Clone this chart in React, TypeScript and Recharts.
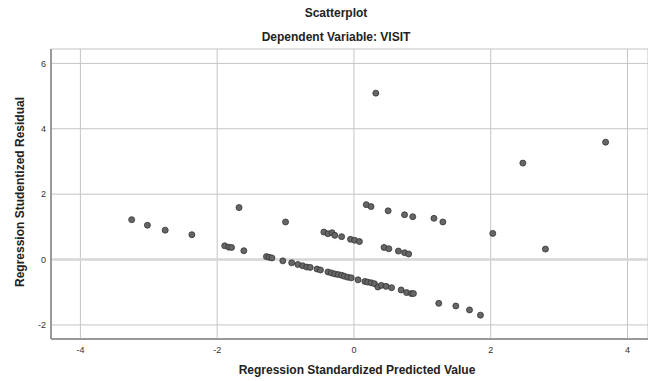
import { ScatterChart, Scatter, XAxis, YAxis, CartesianGrid, ReferenceLine } from "recharts";

// Regression standardized predicted value (x) vs studentized residual (y)
const predicted = [
  -3.25, -3.02, -2.76, -2.37, -1.89, -1.83, -1.79, -1.68, -1.61, -1.0,
  0.18, 0.25, 0.5, 0.74, 0.86, 1.17, 1.3, 2.03, 2.8, 2.47, 3.68, 0.32,
  -0.44, -0.38, -0.32, -0.28, -0.18, -0.05, 0.01, 0.08, 0.44, 0.51, 0.65, 0.74, 0.8,
  -1.28, -1.24, -1.2, -1.04, -0.91, -0.82, -0.75, -0.69, -0.64, -0.54, -0.49,
  -0.38, -0.33, -0.28, -0.23, -0.18, -0.14, -0.09, -0.04, 0.06, 0.16, 0.2,
  0.25, 0.3, 0.35, 0.4, 0.47, 0.55, 0.69, 0.77, 0.84, 0.87, 1.24, 1.49, 1.69, 1.85,
];

const residual = [
  1.22, 1.05, 0.9, 0.76, 0.42, 0.38, 0.37, 1.59, 0.27, 1.15,
  1.68, 1.62, 1.49, 1.37, 1.31, 1.26, 1.15, 0.8, 0.32, 2.95, 3.59, 5.09,
  0.84, 0.79, 0.82, 0.74, 0.7, 0.62, 0.59, 0.55, 0.37, 0.33, 0.26, 0.21, 0.17,
  0.09, 0.07, 0.05, -0.04, -0.1, -0.15, -0.19, -0.23, -0.24, -0.29, -0.32,
  -0.38, -0.41, -0.44, -0.46, -0.48, -0.51, -0.54, -0.56, -0.62, -0.67, -0.69,
  -0.71, -0.74, -0.84, -0.79, -0.82, -0.86, -0.93, -1.01, -1.04, -1.04, -1.34, -1.42, -1.54, -1.7,
];

const xTicks = [-4, -2, 0, 2, 4];
const yTicks = [-2, 0, 2, 4, 6];

const points = predicted.map((x, i) => ({ x, y: residual[i] }));

const font = "'Liberation Sans', Arial, sans-serif";

const Dot = (props: any) => (
  <circle cx={props.cx} cy={props.cy} r={3} fill="#666666" stroke="#333333" strokeWidth={0.8} />
);

export default function App() {
  return (
    <div style={{ position: "absolute", left: 0, top: 0, width: 648, height: 381, background: "#fff", fontFamily: font }}>
      <div style={{ position: "absolute", top: 6, width: 672, textAlign: "center", fontSize: 12, fontWeight: 700, color: "#222" }}>
        Scatterplot
      </div>
      <div style={{ position: "absolute", top: 30, width: 672, textAlign: "center", fontSize: 12, fontWeight: 700, color: "#222" }}>
        Dependent Variable: VISIT
      </div>
      <ScatterChart width={648} height={381} margin={{ top: 49, right: 0, bottom: 0, left: 0 }}>
        <CartesianGrid stroke="#c4c4c4" strokeWidth={1} />
        <ReferenceLine y={0} stroke="#d6d6d6" strokeWidth={2.5} />
        <XAxis
          type="number"
          dataKey="x"
          domain={[-4.43, 4.3]}
          ticks={xTicks}
          allowDataOverflow
          height={42}
          tickLine={false}
          tickSize={0}
          tickMargin={8}
          axisLine={{ stroke: "#999999", strokeWidth: 2 }}
          tick={{ fontSize: 9, fill: "#333", fontFamily: font }}
        />
        <YAxis
          type="number"
          dataKey="y"
          domain={[-2.43, 6.44]}
          ticks={yTicks}
          allowDataOverflow
          width={51}
          tickLine={false}
          tickSize={0}
          tickMargin={5}
          axisLine={{ stroke: "#999999", strokeWidth: 2 }}
          tick={{ fontSize: 9, fill: "#333", fontFamily: font }}
        />
        <Scatter data={points} shape={<Dot />} isAnimationActive={false} />
      </ScatterChart>
      <div style={{ position: "absolute", top: 363, left: 0, width: 714, textAlign: "center", fontSize: 12, fontWeight: 700, color: "#222" }}>
        Regression Standardized Predicted Value
      </div>
      <div
        style={{
          position: "absolute",
          left: 20,
          top: 192,
          transform: "translate(-50%, -50%) rotate(-90deg)",
          whiteSpace: "nowrap",
          fontSize: 12,
          fontWeight: 700,
          color: "#222",
        }}
      >
        Regression Studentized Residual
      </div>
    </div>
  );
}
